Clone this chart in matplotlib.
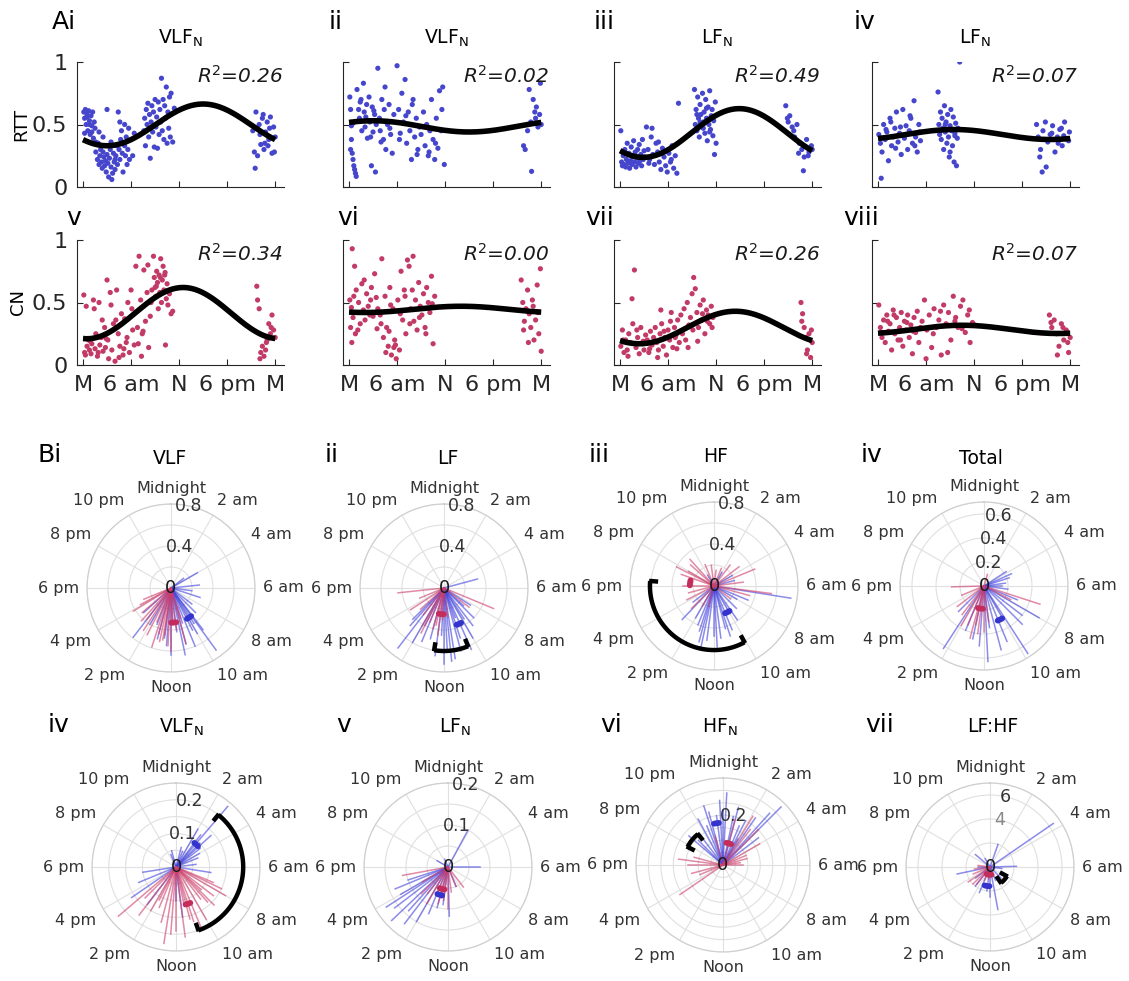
import numpy as np
import matplotlib
matplotlib.use('Agg')
import matplotlib.pyplot as plt

W, H = 1129, 981

# ---------------- data: scatter panels (hour of day, value) ----------------
ai_hr = [0.1,0.2,0.3,0.4,0.5,0.6,0.7,0.8,0.9,1.0,1.1,1.2,1.3,1.4,1.5,0.2,0.5,0.8,1.1,1.6,
         1.6,1.8,1.9,2.0,2.1,2.2,2.3,2.4,2.5,2.6,2.7,2.8,2.9,3.0,3.1,3.2,3.3,3.4,3.5,3.6,3.7,3.8,3.9,4.0,4.1,4.2,4.3,2.0,2.5,3.0,3.5,4.0,
         4.4,4.5,4.6,4.7,4.8,4.9,5.0,5.1,5.2,5.3,5.4,5.5,5.6,5.7,5.8,6.0,6.2,6.4,4.6,5.2,
         7.6,7.7,7.8,7.9,8.0,8.1,8.2,8.3,8.4,8.5,8.6,8.7,8.8,8.9,9.0,9.1,9.2,9.3,9.4,9.5,9.6,9.7,9.8,9.9,10.0,10.1,10.2,10.3,10.4,10.5,10.6,10.7,10.8,10.9,11.0,11.2,11.4,
         21.2,21.4,21.6,21.8,22.0,22.2,22.4,22.6,22.8,23.0,23.2,23.4,23.6,23.8,24.0,21.5,22.1,22.7,23.3,23.9,22.5,23.1]
ai_val = [0.6,0.55,0.62,0.5,0.58,0.45,0.61,0.53,0.42,0.57,0.49,0.6,0.39,0.52,0.47,0.43,0.56,0.5,0.44,0.36,
          0.28,0.22,0.35,0.18,0.25,0.3,0.2,0.15,0.4,0.24,0.17,0.21,0.12,0.26,0.19,0.08,0.23,0.3,0.16,0.06,0.11,0.27,0.2,0.14,0.25,0.33,0.18,0.44,0.28,0.62,0.36,0.22,
          0.6,0.3,0.22,0.38,0.45,0.27,0.12,0.35,0.5,0.25,0.4,0.18,0.3,0.47,0.22,0.38,0.25,0.43,0.52,0.33,
          0.45,0.55,0.33,0.62,0.5,0.67,0.4,0.58,0.23,0.52,0.65,0.44,0.6,0.32,0.7,0.48,0.56,0.31,0.68,0.42,0.62,0.52,0.87,0.45,0.7,0.38,0.65,0.55,0.8,0.35,0.6,0.47,0.72,0.4,0.75,0.36,0.63,
          0.45,0.28,0.6,0.25,0.5,0.34,0.55,0.3,0.44,0.52,0.38,0.56,0.27,0.48,0.4,0.15,0.42,0.35,0.47,0.28,0.58,0.33]

aii_hr = [0.1,0.2,0.3,0.3,0.4,0.5,0.5,0.6,0.7,0.8,0.9,0.2,
          1.0,1.2,1.3,1.5,1.6,1.8,1.9,2.0,2.2,2.3,2.5,2.6,2.8,2.9,3.0,3.2,3.3,3.4,1.4,2.1,2.7,3.1,
          3.6,3.8,3.9,4.1,4.3,4.4,4.6,4.8,5.0,5.2,5.4,5.6,4.0,4.5,5.1,
          6.0,6.2,6.4,6.6,6.8,7.0,7.2,7.4,7.6,7.8,8.0,8.2,8.4,8.6,8.8,6.3,7.1,7.9,8.5,
          9.0,9.3,9.5,9.7,9.9,10.1,10.3,10.5,10.7,10.9,11.1,11.3,11.5,11.7,11.9,10.0,10.8,11.6,
          21.8,22.0,22.3,22.5,22.7,23.0,23.2,23.4,23.6,23.8,24.0,22.8,23.3,23.9]
aii_val = [0.72,0.62,0.49,0.38,0.27,0.22,0.51,0.17,0.14,0.11,0.085,0.3,
           0.78,0.62,0.55,0.7,0.45,0.83,0.6,0.48,0.66,0.39,0.72,0.52,0.17,0.64,0.44,0.58,0.12,0.5,0.68,0.56,0.4,0.61,
           0.95,0.55,0.45,0.7,0.38,0.62,0.3,0.5,0.66,0.42,0.27,0.58,0.36,0.8,0.47,
           0.97,0.62,0.43,0.75,0.52,0.86,0.35,0.6,0.45,0.22,0.7,0.4,0.55,0.3,0.48,0.38,0.57,0.66,0.26,
           0.42,0.6,0.33,0.5,0.25,0.45,0.7,0.38,0.22,0.55,0.31,0.77,0.45,0.8,0.18,0.28,0.35,0.62,
           0.33,0.3,0.45,0.78,0.52,0.7,0.6,0.64,0.48,0.58,0.5,0.125,0.55,0.83]

aiii_hr = [0.1,0.2,0.3,0.4,0.5,0.6,0.7,0.8,0.9,1.0,1.1,1.2,1.3,1.4,1.5,1.6,1.7,1.8,1.9,2.0,2.1,2.2,2.3,2.4,2.5,2.6,2.7,2.8,2.9,3.0,3.1,
           3.3,3.5,3.7,3.9,4.1,4.3,4.5,4.7,4.9,5.1,5.3,5.5,5.7,5.9,6.1,6.3,6.5,6.7,6.9,7.1,4.0,4.8,5.6,6.4,3.6,7.3,
           9.3,9.4,9.5,9.6,9.7,9.8,9.9,10.0,10.1,10.2,10.3,10.4,10.5,10.6,10.7,10.8,10.9,11.0,11.1,11.2,11.3,11.4,11.5,11.6,11.7,11.8,11.9,12.0,9.6,10.0,10.4,10.8,11.2,11.6,
           20.7,20.9,21.2,21.5,21.8,22.1,22.4,22.7,23.0,23.3,23.6,23.9,21.0,21.7,22.3,22.9,23.5,24.0]
aiii_val = [0.45,0.2,0.17,0.25,0.18,0.3,0.16,0.22,0.35,0.19,0.27,0.15,0.21,0.32,0.18,0.24,0.37,0.2,0.28,0.16,0.23,0.3,0.19,0.34,0.21,0.26,0.17,0.38,0.22,0.29,0.24,
            0.48,0.3,0.22,0.4,0.26,0.18,0.35,0.28,0.2,0.14,0.31,0.24,0.17,0.12,0.27,0.2,0.33,0.15,0.25,0.11,0.47,0.36,0.29,0.22,0.19,0.67,
            0.78,0.5,0.62,0.45,0.72,0.55,0.4,0.66,0.58,0.48,0.75,0.52,0.6,0.43,0.7,0.55,0.37,0.64,0.5,0.77,0.46,0.57,0.62,0.41,0.53,0.26,0.68,0.35,0.58,0.52,0.47,0.63,0.44,0.56,
            0.65,0.55,0.57,0.48,0.4,0.5,0.35,0.3,0.24,0.38,0.28,0.33,0.52,0.45,0.27,0.13,0.25,0.3]

aiv_hr = [0.1,0.3,0.5,0.7,0.9,1.1,1.3,1.5,1.7,1.9,2.1,2.3,2.5,2.7,2.9,3.1,3.3,3.5,3.7,3.9,4.1,4.3,4.5,4.7,4.9,5.1,5.3,0.4,1.0,1.6,2.2,2.8,3.4,4.0,4.6,5.2,
          7.5,7.6,7.7,7.8,7.9,8.0,8.1,8.2,8.3,8.4,8.5,8.6,8.7,8.8,8.9,9.0,9.1,9.2,9.3,9.4,9.5,9.6,9.7,9.8,9.9,10.0,10.2,7.8,8.4,9.0,9.6,
          19.8,20.0,20.3,20.6,20.9,21.2,21.5,21.8,22.1,22.4,22.7,23.0,23.3,23.6,23.9,20.2,21.0,21.7,22.5,23.2,23.8,20.5,22.9]
aiv_val = [0.42,0.35,0.28,0.5,0.38,0.44,0.21,0.55,0.33,0.4,0.47,0.6,0.36,0.43,0.26,0.62,0.39,0.49,0.3,0.45,0.55,0.35,0.69,0.4,0.28,0.5,0.37,0.07,0.46,0.52,0.31,0.48,0.42,0.57,0.33,0.44,
           0.76,0.5,0.42,0.6,0.38,0.55,0.47,0.3,0.65,0.44,0.52,0.35,0.58,0.4,0.24,0.49,0.62,0.45,0.33,0.56,0.2,0.43,0.51,0.17,0.39,0.47,1.0,0.45,0.5,0.28,0.41,
           0.5,0.4,0.3,0.45,0.52,0.36,0.42,0.49,0.28,0.4,0.46,0.33,0.52,0.38,0.44,0.24,0.16,0.43,0.35,0.41,0.37,0.12,0.47]

av_hr = [0.1,0.2,0.4,0.5,0.7,0.8,1.0,1.1,1.3,1.5,1.6,1.8,2.0,2.1,2.3,2.5,2.7,2.8,0.3,0.9,1.4,1.9,2.4,2.9,
         3.0,3.2,3.4,3.6,3.8,4.0,4.2,4.4,4.6,4.8,5.0,5.2,5.4,5.6,5.8,6.0,6.2,6.4,3.5,4.5,5.5,3.1,4.1,5.1,6.1,
         6.6,6.8,7.0,7.2,7.4,7.6,7.8,8.0,8.2,8.4,8.6,6.9,7.5,8.1,7.3,8.5,
         8.8,8.9,9.0,9.1,9.2,9.3,9.4,9.5,9.6,9.7,9.8,9.9,10.0,10.1,10.2,10.3,10.4,10.5,10.6,10.8,11.0,11.2,9.15,9.65,10.25,
         21.7,21.8,22.0,22.2,22.4,22.6,22.8,23.0,23.2,23.4,23.6,23.8,24.0,22.1,22.9,23.5]
av_val = [0.56,0.1,0.47,0.15,0.2,0.12,0.09,0.17,0.52,0.13,0.25,0.07,0.5,0.16,0.22,0.11,0.3,0.14,0.08,0.19,0.45,0.1,0.36,0.21,
          0.68,0.05,0.58,0.12,0.33,0.03,0.6,0.25,0.15,0.41,0.08,0.37,0.18,0.5,0.1,0.6,0.28,0.16,0.48,0.06,0.22,0.2,0.36,0.13,0.45,
          0.79,0.3,0.87,0.52,0.25,0.76,0.35,0.58,0.14,0.39,0.6,0.17,0.27,0.8,0.07,0.5,
          0.87,0.7,0.62,0.55,0.75,0.66,0.45,0.72,0.58,0.85,0.5,0.68,0.79,0.6,0.72,0.16,0.53,0.65,0.48,0.57,0.41,0.43,0.63,0.7,0.74,
          0.63,0.52,0.45,0.1,0.15,0.07,0.12,0.2,0.33,0.25,0.4,0.28,0.22,0.05,0.18,0.3]

avi_hr = [0.1,0.2,0.3,0.4,0.5,0.6,0.7,0.8,0.9,1.0,1.2,1.4,1.6,1.8,2.0,2.2,2.4,2.6,2.8,3.0,3.2,3.4,3.6,0.35,1.1,1.9,2.7,3.5,
          3.9,4.1,4.3,4.5,4.7,4.9,5.1,5.3,5.5,5.7,5.9,6.1,6.3,6.5,6.7,6.9,7.1,7.3,4.0,4.6,5.2,5.8,6.4,7.0,5.0,5.6,
          7.5,7.7,7.9,8.1,8.3,8.5,8.7,8.9,9.1,9.3,9.5,9.7,9.9,10.1,10.3,10.5,10.7,8.0,8.8,9.6,10.4,7.6,
          21.5,21.7,21.9,22.1,22.3,22.5,22.7,22.9,23.1,23.3,23.5,23.7,23.9,24.0,21.8,22.4,23.0,23.6]
avi_val = [0.52,0.3,0.46,0.93,0.38,0.55,0.79,0.25,0.6,0.42,0.5,0.33,0.65,0.44,0.36,0.57,0.47,0.4,0.62,0.39,0.73,0.54,0.45,0.18,0.28,0.68,0.52,0.29,
           0.4,0.85,0.22,0.55,0.3,0.15,0.62,0.08,0.45,0.2,0.05,0.52,0.12,0.75,0.36,0.6,0.25,0.84,0.33,0.1,0.48,0.16,0.41,0.55,0.27,0.14,
           0.79,0.45,0.6,0.35,0.52,0.28,0.66,0.47,0.4,0.57,0.3,0.62,0.5,0.42,0.71,0.17,0.55,0.87,0.38,0.25,0.49,0.33,
           0.68,0.5,0.35,0.45,0.6,0.41,0.3,0.52,0.2,0.36,0.64,0.25,0.77,0.11,0.28,0.18,0.47,0.42]

avii_hr = [0.1,0.3,0.5,0.7,0.9,1.1,1.3,1.5,1.6,1.8,2.0,2.2,2.4,2.6,2.8,3.0,3.2,3.4,3.6,3.8,4.0,4.2,0.4,1.0,2.1,2.9,3.7,
           4.4,4.6,4.8,5.0,5.2,5.4,5.6,5.8,6.0,6.2,6.4,6.6,6.8,7.0,7.2,7.4,7.6,4.7,5.5,6.3,7.1,5.1,6.9,
           7.8,8.0,8.2,8.4,8.6,8.8,9.0,9.2,9.4,9.6,9.8,10.0,10.2,10.4,10.6,10.8,11.0,11.2,11.4,11.6,8.5,9.1,9.7,10.3,10.9,11.5,
           22.6,22.8,23.0,23.2,23.4,23.6,23.8,24.0,22.7,23.3,23.9]
avii_val = [0.15,0.28,0.1,0.2,0.12,0.25,0.18,0.53,0.33,0.76,0.14,0.22,0.09,0.3,0.17,0.12,0.24,0.2,0.1,0.27,0.16,0.22,0.2,0.07,0.28,0.19,0.13,
            0.3,0.18,0.12,0.25,0.33,0.15,0.22,0.08,0.28,0.2,0.42,0.14,0.3,0.24,0.36,0.18,0.4,0.06,0.27,0.35,0.13,0.44,0.22,
            0.25,0.45,0.2,0.5,0.32,0.38,0.57,0.7,0.61,0.42,0.3,0.48,0.36,0.52,0.25,0.44,0.4,0.33,0.47,0.38,0.14,0.28,0.19,0.41,0.35,0.3,
            0.5,0.41,0.3,0.22,0.12,0.25,0.06,0.18,0.35,0.09,0.28]

aviii_hr = [0.1,0.3,0.5,0.7,0.9,1.1,1.3,1.5,1.7,1.9,2.1,2.3,2.5,2.7,2.9,3.1,3.3,3.5,3.7,3.9,4.1,4.3,4.5,4.7,4.9,5.1,5.3,0.4,1.2,2.0,2.8,3.6,4.4,
            5.5,5.8,6.1,6.4,6.7,7.0,7.3,7.6,7.9,8.2,8.5,8.8,9.1,9.4,9.7,10.0,10.3,10.6,10.9,11.2,11.5,11.8,6.0,6.9,7.8,8.7,9.6,10.5,11.4,12.1,
            21.4,21.7,22.0,22.3,22.6,22.9,23.2,23.5,23.8,24.0,21.6,22.4,23.1,23.7]
aviii_val = [0.48,0.3,0.22,0.36,0.18,0.4,0.27,0.33,0.12,0.44,0.25,0.38,0.2,0.3,0.42,0.15,0.35,0.28,0.4,0.22,0.32,0.09,0.38,0.26,0.43,0.18,0.3,0.26,0.35,0.4,0.2,0.34,0.27,
             0.35,0.52,0.28,0.4,0.14,0.45,0.3,0.36,0.08,0.48,0.33,0.42,0.2,0.55,0.38,0.3,0.47,0.52,0.26,0.4,0.18,0.34,0.05,0.25,0.43,0.1,0.35,0.29,0.44,0.32,
             0.4,0.3,0.36,0.25,0.15,0.33,0.2,0.28,0.1,0.22,0.34,0.08,0.3,0.18]

# cosinor fits: mesor, amplitude, acrophase (h)
fit_mesor = [0.497, 0.485, 0.432, 0.42, 0.415, 0.445, 0.30, 0.285]
fit_amp = [0.167, 0.045, 0.195, 0.04, 0.205, 0.025, 0.13, 0.033]
fit_phase = [15.0, 3.0, 14.9, 9.5, 12.5, 14.0, 14.4, 10.5]
r2_text = ['0.26', '0.02', '0.49', '0.07', '0.34', '0.00', '0.26', '0.07']
scatter_titles = [r'VLF$_\mathregular{N}$', r'VLF$_\mathregular{N}$', r'LF$_\mathregular{N}$', r'LF$_\mathregular{N}$']
scatter_letters = ['Ai', 'ii', 'iii', 'iv', 'v', 'vi', 'vii', 'viii']
time_labels = ['M', '6 am', 'N', '6 pm', 'M']

# ---------------- data: polar panels (hour, length) ----------------
bi_blue_h = [4.0,5.6,7.2,9.6,9.5,12.0,14.5,11.0,13.4,10.2,10.8,11.5,12.5,9.0,8.5,13.0,14.0,10.5,11.8,12.3,9.8,15.2,6.5,3.5,10.0,11.2]
bi_blue_r = [0.29,0.27,0.29,0.73,0.50,0.64,0.59,0.55,0.37,0.45,0.35,0.42,0.48,0.33,0.25,0.5,0.4,0.6,0.3,0.55,0.4,0.35,0.2,0.15,0.5,0.65]
bi_red_h = [15.9,13.2,11.0,16.1,12.0,12.5,13.8,14.5,11.5,12.8,13.5,14.8,15.3,10.8,12.2,13.0,14.2,16.5,11.8,12.6]
bi_red_r = [0.42,0.59,0.55,0.33,0.6,0.45,0.5,0.38,0.4,0.52,0.35,0.42,0.36,0.3,0.55,0.45,0.48,0.28,0.35,0.5]

bii_blue_h = [5.0,14.5,10.4,11.4,12.0,11.8,13.5,14.0,10.8,9.5,9.0,8.2,12.5,13.0,11.0,10.0,14.8,12.2,13.8,9.8,11.6,10.6,15.0,8.8]
bii_blue_r = [0.33,0.72,0.64,0.68,0.72,0.6,0.55,0.6,0.5,0.45,0.4,0.3,0.65,0.5,0.62,0.55,0.48,0.45,0.4,0.35,0.7,0.3,0.42,0.25]
bii_red_h = [17.6,7.5,15.8,12.5,13.0,13.5,14.0,12.2,14.5,11.5,13.8,12.8,15.2,16.5,8.5]
bii_red_r = [0.44,0.51,0.38,0.45,0.4,0.35,0.42,0.3,0.32,0.28,0.48,0.36,0.3,0.25,0.3]

biii_blue_h = [6.6,14.9,13.0,9.7,10.5,11.5,12.0,12.5,13.5,14.0,11.0,10.0,9.0,8.0,7.5,5.0,12.8,11.8,10.8,13.2,15.5,2.0,22.0,4.0]
biii_blue_r = [0.74,0.44,0.55,0.39,0.45,0.5,0.48,0.52,0.4,0.35,0.42,0.3,0.3,0.25,0.35,0.2,0.6,0.58,0.5,0.45,0.25,0.15,0.12,0.2]
biii_red_h = [21.2,4.5,6.5,19.3,16.2,0.5,2.5,3.5,5.5,7.0,8.5,18.0,17.0,20.0,22.5,23.5,1.5,15.0,14.0,13.0,19.8,20.8]
biii_red_r = [0.34,0.42,0.55,0.33,0.29,0.15,0.25,0.3,0.28,0.35,0.2,0.3,0.25,0.28,0.22,0.2,0.18,0.3,0.22,0.2,0.4,0.3]

biv_blue_h = [8.0,9.8,11.8,14.2,4.4,4.8,5.5,6.5,7.5,9.0,10.5,11.0,12.3,12.8,13.5,10.0,11.5,8.5,3.8,15.0,6.0]
biv_blue_r = [0.53,0.67,0.63,0.62,0.25,0.22,0.18,0.2,0.3,0.45,0.5,0.55,0.5,0.45,0.4,0.3,0.35,0.4,0.22,0.3,0.15]
biv_red_h = [7.2,17.9,1.1,13.5,14.5,15.5,12.5,13.0,12.0,11.5,16.5,14.0,12.8,7.8]
biv_red_r = [0.49,0.27,0.1,0.35,0.3,0.28,0.4,0.45,0.38,0.3,0.2,0.38,0.33,0.25]

bv_blue_h = [2.7,2.5,3.0,3.5,4.0,4.5,1.5,2.0,15.7,17.4,6.6,5.5,12.0,11.5,22.5,23.0,1.0,16.5,3.2,14.5]
bv_blue_r = [0.237,0.12,0.1,0.09,0.08,0.07,0.05,0.13,0.16,0.1,0.105,0.06,0.1,0.15,0.04,0.05,0.06,0.12,0.14,0.14]
bv_red_h = [15.3,12.6,7.7,8.0,8.5,9.0,9.5,10.0,10.5,11.0,11.5,12.0,13.0,13.5,14.0,14.5,7.5,9.2,10.8,12.3,13.8,15.0,8.8,11.2]
bv_red_r = [0.225,0.23,0.15,0.17,0.14,0.16,0.12,0.18,0.2,0.16,0.21,0.19,0.17,0.13,0.15,0.18,0.12,0.14,0.17,0.2,0.11,0.13,0.1,0.12]

bvi_blue_h = [1.9,15.1,16.5,11.9,6.0,14.5,15.5,14.0,13.5,16.0,13.0,12.5,15.8,14.8,10.5,20.0,22.5,16.8]
bvi_blue_r = [0.10,0.185,0.136,0.117,0.075,0.17,0.16,0.15,0.12,0.13,0.1,0.09,0.175,0.14,0.05,0.03,0.02,0.1]
bvi_red_h = [17.3,12.5,13.0,13.5,14.0,11.5,12.0,14.5,15.0,10.5,9.5,16.0,12.8]
bvi_red_r = [0.11,0.08,0.09,0.07,0.1,0.06,0.1,0.08,0.09,0.05,0.06,0.07,0.075]

bvii_blue_h = [0.2,3.0,2.3,22.1,20.7,23.0,23.5,0.8,1.5,21.5,22.8,1.0,2.8,3.5,0.0,22.5,21.0,1.8,23.8,2.0]
bvii_blue_r = [0.29,0.33,0.23,0.21,0.18,0.22,0.2,0.2,0.17,0.15,0.25,0.24,0.28,0.18,0.22,0.17,0.14,0.2,0.26,0.12]
bvii_red_h = [15.7,18.5,17.0,4.0,2.1,5.0,3.0,1.0,19.0,16.5,6.0,4.5,23.0,18.0,5.5,2.5]
bvii_red_r = [0.21,0.18,0.13,0.17,0.23,0.1,0.2,0.19,0.12,0.1,0.08,0.1,0.12,0.14,0.07,0.18]

bviii_blue_h = [3.7,11.3,17.2,5.9,1.3,20.7,12.5,13.5,14.5,15.5,10.5,18.0,12.0,6.5,9.0,22.0]
bviii_blue_r = [6.4,3.6,2.8,2.2,2.0,1.6,2.0,2.3,2.0,1.5,1.2,1.0,2.5,1.0,1.3,0.8]
bviii_red_h = [15.7,14.5,16.5,13.5,12.5,17.5,15.0,12.0,18.5]
bviii_red_r = [2.2,1.8,1.5,1.2,1.0,1.3,2.0,0.8,1.0]

# group means (hour, length) and arc (start h, end h, radius)
blue_means = [(9.9, 0.33), (10.5, 0.37), (10.2, 0.28), (10.3, 0.31), (2.8, 0.09), (13.1, 0.069), (23.4, 0.17), (12.6, 1.6)]
red_means = [(11.7, 0.33), (12.4, 0.25), (18.5, 0.23), (12.6, 0.19), (10.8, 0.115), (13.0, 0.054), (1.0, 0.09), (12.5, 0.65)]
arcs = [None, (10.5, 12.6, 0.6), (10.1, 18.3, 0.61), None, (2.6, 10.7, 0.2), None, (19.8, 21.4, 0.16), (7.9, 9.7, 1.6)]
rmaxes = [0.8, 0.8, 0.8, 0.7, 0.25, 0.2, 0.35, 7]
ring_vals = [[0.2, 0.4, 0.6, 0.8], [0.2, 0.4, 0.6, 0.8], [0.2, 0.4, 0.6, 0.8], [0.2, 0.4, 0.6, 0.7],
             [0.05, 0.1, 0.15, 0.2, 0.25], [0.05, 0.1, 0.15, 0.2], [0.05, 0.1, 0.15, 0.2, 0.25, 0.3, 0.35], [2, 4, 6, 7]]
ring_labels = [[(0.4, '0.4'), (0.8, '0.8')], [(0.4, '0.4'), (0.8, '0.8')], [(0.4, '0.4'), (0.8, '0.8')],
               [(0.2, '0.2'), (0.4, '0.4'), (0.6, '0.6')], [(0.1, '0.1'), (0.2, '0.2')], [(0.1, '0.1'), (0.2, '0.2')],
               [(0.2, '0.2')], [(4, '4'), (6, '6')]]
polar_titles = ['VLF', 'LF', 'HF', 'Total', r'VLF$_\mathregular{N}$', r'LF$_\mathregular{N}$', r'HF$_\mathregular{N}$', 'LF:HF']
polar_letters = ['Bi', 'ii', 'iii', 'iv', 'iv', 'v', 'vi', 'vii']
clock_labels = ['Midnight', '2 am', '4 am', '6 am', '8 am', '10 am', 'Noon', '2 pm', '4 pm', '6 pm', '8 pm', '10 pm']

# ---------------- layout (pixels) ----------------
BLUE = '#4646cc'
RED = '#c23a66'
LBLUE = '#3f3fdc'
LRED = '#cc3d6a'

fig = plt.figure(figsize=(W / 100, H / 100), dpi=100)
plt.rcParams['font.family'] = ['DejaVu Sans']


def px(x, y):
    return x / W, 1 - y / H


# ---- A: scatter panels
scatter_data = [(ai_hr, ai_val), (aii_hr, aii_val), (aiii_hr, aiii_val), (aiv_hr, aiv_val),
                (av_hr, av_val), (avi_hr, avi_val), (avii_hr, avii_val), (aviii_hr, aviii_val)]
col_left = [77, 343, 614, 872]
row_bottom = [187, 365]
letter_pos = [(52, 22), (329, 22), (594, 22), (854, 22), (66, 218), (337, 218), (585, 218), (843, 218)]
tt = np.linspace(0, 24, 300)

for i, (hr, val) in enumerate(scatter_data):
    row, col = divmod(i, 4)
    l, b = px(col_left[col], row_bottom[row])
    ax = fig.add_axes([l, b, 207 / W, 125 / H])
    color = BLUE if row == 0 else RED
    ax.scatter(hr, val, s=14, c=color, edgecolors='none', zorder=2)
    fit = fit_mesor[i] + fit_amp[i] * np.cos(2 * np.pi * (tt - fit_phase[i]) / 24)
    ax.plot(tt, fit, color='black', lw=4, zorder=3, solid_capstyle='butt')
    ax.set_xlim(-0.75, 25.1)
    ax.set_ylim(0, 1)
    for s in ['top', 'right']:
        ax.spines[s].set_visible(False)
    for s in ['left', 'bottom']:
        ax.spines[s].set_color('#262626')
        ax.spines[s].set_linewidth(0.8)
    ax.set_xticks([0, 6, 12, 18, 24])
    ax.set_yticks([0, 0.5, 1])
    ax.tick_params(direction='in', length=4, width=0.8, colors='#262626', labelsize=16, pad=7)
    if row == 1:
        ax.set_xticklabels(time_labels)
    else:
        ax.set_xticklabels([])
    if col == 0:
        ax.set_yticklabels(['0', '0.5', '1'])
    else:
        ax.set_yticklabels([])
    ax.text(25.0, 0.83, 'R$^2$=' + r2_text[i], ha='right', va='baseline', fontsize=14.5,
            style='italic', color='#1a1a1a')
    lx, ly = letter_pos[i]
    fig.text(*px(lx, ly), scatter_letters[i], fontsize=18, va='center', ha='left')
    if row == 0:
        cx = col_left[col] + 103
        fig.text(*px(cx, 38), scatter_titles[col], fontsize=13.5, ha='center', va='center')

fig.text(*px(21, 124), 'RTT', rotation=90, fontsize=13, ha='center', va='center')
fig.text(*px(18, 302), 'CN', rotation=90, fontsize=13, ha='center', va='center')

# ---- B: polar panels
polar_data = [(bi_blue_h, bi_blue_r, bi_red_h, bi_red_r), (bii_blue_h, bii_blue_r, bii_red_h, bii_red_r),
              (biii_blue_h, biii_blue_r, biii_red_h, biii_red_r), (biv_blue_h, biv_blue_r, biv_red_h, biv_red_r),
              (bv_blue_h, bv_blue_r, bv_red_h, bv_red_r), (bvi_blue_h, bvi_blue_r, bvi_red_h, bvi_red_r),
              (bvii_blue_h, bvii_blue_r, bvii_red_h, bvii_red_r), (bviii_blue_h, bviii_blue_r, bviii_red_h, bviii_red_r)]
centers = [(171, 588), (444, 588), (714, 586), (984, 586), (176, 867), (448, 867), (723, 865), (990, 867)]
radii = [84, 84, 84, 84, 84, 84, 87, 84]
ptitle_pos = [(170, 458), (448, 458), (716, 457), (981, 458), (181, 727), (455, 727), (720, 727), (993, 727)]
pletter_pos = [(37, 455), (325, 455), (589, 455), (861, 455), (48, 725), (336, 725), (600, 725), (865, 725)]


def h2t(h):
    return np.asarray(h) * np.pi / 12


for i, (bh, br, rh, rr) in enumerate(polar_data):
    cx, cy = centers[i]
    R = radii[i]
    rmax = rmaxes[i]
    ax = fig.add_axes([(cx - R) / W, 1 - (cy + R) / H, 2 * R / W, 2 * R / H], projection='polar')
    ax.set_theta_zero_location('N')
    ax.set_theta_direction(-1)
    ax.set_ylim(0, rmax)
    ax.set_xticks(np.deg2rad(np.arange(0, 360, 30)))
    ax.set_yticks(ring_vals[i])
    ax.set_xticklabels([])
    ax.set_yticklabels([])
    ax.grid(True, color='#e0e0e0', lw=0.8)
    ax.spines['polar'].set_color('#cfcfcf')
    ax.spines['polar'].set_linewidth(0.9)

    for h, r in zip(bh, br):
        t = h2t(h)
        ax.plot([t, t], [0, r], color=LBLUE, lw=1.1, alpha=0.6, zorder=2)
    for h, r in zip(rh, rr):
        t = h2t(h)
        ax.plot([t, t], [0, r], color=LRED, lw=1.1, alpha=0.6, zorder=2)

    # group means as short thick arcs
    unit = R / rmax
    for (mh, mr), mc in [(blue_means[i], '#3434cc'), (red_means[i], '#c42c5c')]:
        d = 2.5 / (mr * unit)
        ts = np.linspace(h2t(mh) - d, h2t(mh) + d, 10)
        ax.plot(ts, np.full_like(ts, mr), color=mc, lw=4.2, solid_capstyle='round', zorder=4)

    if arcs[i] is not None:
        h1, h2, ar = arcs[i]
        ts = np.linspace(h2t(h1), h2t(h2), 100)
        ax.plot(ts, np.full_like(ts, ar), color='black', lw=3.2, zorder=5, solid_capstyle='butt')
        tl = 8.0 / unit
        for h in (h1, h2):
            ax.plot([h2t(h), h2t(h)], [ar + 0.012 * rmax, ar - tl], color='black', lw=3.2, zorder=5,
                    solid_capstyle='butt')

    # radial labels
    ax.text(0, 0, '0', ha='center', va='center', fontsize=13, color='#1a1a1a', zorder=6)
    for rv, lab in ring_labels[i]:
        col = '#888888' if (i == 7 and lab == '4') else '#333333'
        ax.text(np.deg2rad(12), rv, lab, ha='center', va='center', fontsize=12.5, color=col, zorder=6)

    # clock labels around the dial
    for k, lab in enumerate(clock_labels):
        th = np.deg2rad(30 * k)
        s, c = np.sin(th), np.cos(th)
        ha = 'left' if s > 0.2 else ('right' if s < -0.2 else 'center')
        va = 'bottom' if c > 0.2 else ('top' if c < -0.2 else 'center')
        ax.annotate(lab, xy=(th, rmax), xytext=(6.0 * s, 6.0 * c), textcoords='offset points',
                    ha=ha, va=va, fontsize=11.5, color='#333333', annotation_clip=False)

    fig.text(*px(*ptitle_pos[i]), polar_titles[i], fontsize=13.5, ha='center', va='center')
    fig.text(*px(*pletter_pos[i]), polar_letters[i], fontsize=18, ha='left', va='center')

fig.savefig('out.png', dpi=100)
